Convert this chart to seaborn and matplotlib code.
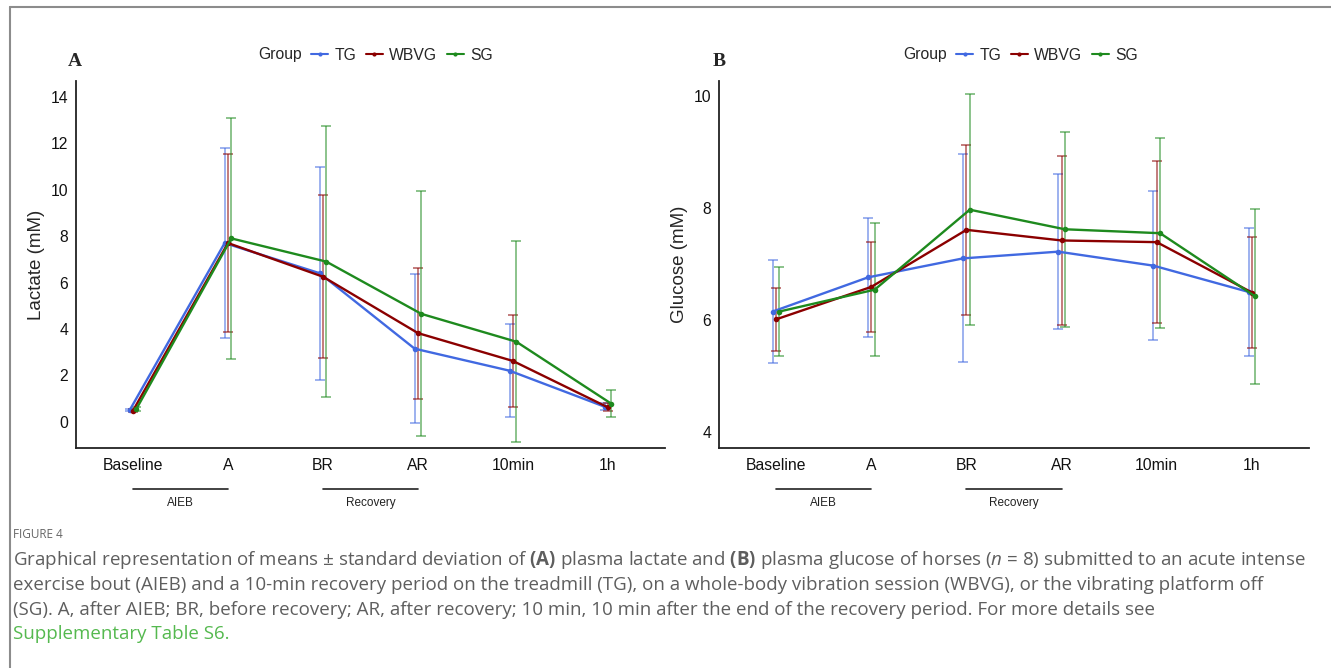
import numpy as np
import pandas as pd
import matplotlib
matplotlib.use("Agg")
import matplotlib.pyplot as plt
import matplotlib.transforms as mtransforms
from matplotlib.lines import Line2D
import seaborn as sns

# values (means and SDs)
times = ["Baseline", "A", "BR", "AR", "10min", "1h"]
groups = ["TG", "WBVG", "SG"]

lactate_tg = [0.50, 7.70, 6.40, 3.15, 2.20, 0.65]
lactate_tg_sd = [0.05, 4.10, 4.58, 3.22, 2.00, 0.15]
lactate_wbvg = [0.48, 7.70, 6.25, 3.82, 2.62, 0.62]
lactate_wbvg_sd = [0.06, 3.85, 3.52, 2.82, 1.97, 0.17]
lactate_sg = [0.55, 7.90, 6.90, 4.65, 3.45, 0.78]
lactate_sg_sd = [0.08, 5.20, 5.85, 5.28, 4.32, 0.58]

glucose_tg = [6.15, 6.76, 7.10, 7.22, 6.97, 6.50]
glucose_tg_sd = [0.92, 1.06, 1.86, 1.39, 1.33, 1.14]
glucose_wbvg = [6.01, 6.59, 7.61, 7.42, 7.39, 6.49]
glucose_wbvg_sd = [0.56, 0.81, 1.52, 1.51, 1.45, 1.00]
glucose_sg = [6.15, 6.54, 7.97, 7.62, 7.55, 6.42]
glucose_sg_sd = [0.79, 1.19, 2.06, 1.74, 1.70, 1.56]

colors = {"TG": "#4169E1", "WBVG": "#8B0000", "SG": "#1E8A1E"}
dodge = {"TG": -0.035, "WBVG": 0.0, "SG": 0.035}

sns.set_style("white")
plt.rcParams['font.family'] = ['Liberation Sans', 'DejaVu Sans']
plt.rcParams['mathtext.fontset'] = 'custom'
plt.rcParams['mathtext.rm'] = 'Open Sans'
plt.rcParams['mathtext.bf'] = 'Open Sans:bold'
plt.rcParams['mathtext.it'] = 'Open Sans:italic'


def make_df(means, sds):
    rows = []
    for g in groups:
        for i, t in enumerate(times):
            rows.append({"Group": g, "time": t, "pos": i + dodge[g],
                         "mean": means[g][i], "sd": sds[g][i]})
    return pd.DataFrame(rows)


def draw_panel(ax, df, ylabel, ylim, yticks):
    for g in groups:
        sub = df[df["Group"] == g]
        ax.errorbar(sub["pos"], sub["mean"], yerr=sub["sd"], fmt="none",
                    ecolor=colors[g], alpha=0.6, elinewidth=1.2,
                    capsize=3.3, capthick=1.2, zorder=2)
    sns.lineplot(data=df, x="pos", y="mean", hue="Group", hue_order=groups,
                 palette=colors, marker="o", markersize=4, markeredgewidth=0,
                 linewidth=1.7, errorbar=None, legend=False, ax=ax, zorder=3)
    ax.set_xlim(-0.6, 5.6)
    ax.set_ylim(*ylim)
    ax.set_xticks(range(len(times)))
    ax.set_xticklabels(times)
    ax.set_yticks(yticks)
    ax.set_xlabel("")
    ax.set_ylabel(ylabel, fontsize=13.5, labelpad=4)
    ax.tick_params(axis="both", labelsize=11.3, length=3.5, width=1,
                   color="#333333", labelcolor="#111111", pad=2, direction="out")
    ax.tick_params(axis="x", pad=4)
    for s in ["top", "right"]:
        ax.spines[s].set_visible(False)
    for s in ["left", "bottom"]:
        ax.spines[s].set_linewidth(1.3)
        ax.spines[s].set_color("#222222")
    ax.set_facecolor("white")

    # bracket annotations under the axis
    trans = mtransforms.blended_transform_factory(ax.transData, ax.transAxes)
    for (a, b), lab in [((0, 1), "AIEB"), ((2, 3), "Recovery")]:
        ax.plot([a, b], [-0.113, -0.113], transform=trans, clip_on=False,
                color="#222222", lw=1.2)
        ax.text((a + b) / 2, -0.15, lab, transform=trans, ha="center",
                va="center", fontsize=8.5, color="#222222")


fig = plt.figure(figsize=(13.31, 6.68), dpi=100)
axA = fig.add_axes([0.0571, 0.3293, 0.4425, 0.5494])
axB = fig.add_axes([0.5402, 0.3293, 0.4433, 0.5494])

lac_df = make_df({"TG": lactate_tg, "WBVG": lactate_wbvg, "SG": lactate_sg},
                 {"TG": lactate_tg_sd, "WBVG": lactate_wbvg_sd, "SG": lactate_sg_sd})
glu_df = make_df({"TG": glucose_tg, "WBVG": glucose_wbvg, "SG": glucose_sg},
                 {"TG": glucose_tg_sd, "WBVG": glucose_wbvg_sd, "SG": glucose_sg_sd})

draw_panel(axA, lac_df, "Lactate (mM)", (-1.13, 14.68), range(0, 15, 2))
draw_panel(axB, glu_df, "Glucose (mM)", (3.71, 10.27), [4, 6, 8, 10])

# legends: "Group" title to the left, keys in one row
handles = [Line2D([], [], color=colors[g], lw=1.5, marker="o", markersize=3,
                  markeredgewidth=0) for g in groups]
for gx, lx in [(258, 311), (903, 956)]:
    fig.text(gx / 1331, 1 - 55 / 668, "Group", fontsize=11.3, va="center")
    fig.legend(handles, groups, ncol=3, loc="center left",
               bbox_to_anchor=(lx / 1331, 1 - 55 / 668), frameon=False,
               fontsize=11.3, handlelength=1.1, handletextpad=0.4,
               columnspacing=0.6, borderpad=0, borderaxespad=0)

# panel letters
fig.text(75 / 1331, 1 - 62 / 668, "A", family="Liberation Serif",
         weight="bold", fontsize=14, ha="center", va="center")
fig.text(719 / 1331, 1 - 62 / 668, "B", family="Liberation Serif",
         weight="bold", fontsize=14, ha="center", va="center")

# frame around the figure area
fig.add_artist(Line2D([10 / 1331, 10 / 1331], [0, 1 - 7 / 668],
                      transform=fig.transFigure, color="#8c8c8c", lw=1.5))
fig.add_artist(Line2D([10 / 1331, 1], [1 - 7 / 668, 1 - 7 / 668],
                      transform=fig.transFigure, color="#8c8c8c", lw=1.5))

# caption
cap_color = "#5e5e5e"
cap_size = 13.5
fig.text(13 / 1331, 1 - 534 / 668, "FIGURE 4", family="Open Sans",
         fontsize=8.5, color="#666666", va="center")
caption = [
    r"Graphical representation of means $\pm$ standard deviation of $\mathbf{(A)}$ plasma lactate and "
    r"$\mathbf{(B)}$ plasma glucose of horses ($\mathit{n}$ = 8) submitted to an acute intense",
    "exercise bout (AIEB) and a 10-min recovery period on the treadmill (TG), on a whole-body vibration "
    "session (WBVG), or the vibrating platform off",
    "(SG). A, after AIEB; BR, before recovery; AR, after recovery; 10 min, 10 min after the end of the "
    "recovery period. For more details see",
]
for k, line in enumerate(caption):
    fig.text(13 / 1331, 1 - (560 + 25 * k) / 668, line, family="Open Sans",
             fontsize=cap_size, color=cap_color, va="center")
fig.text(13 / 1331, 1 - 634 / 668, "Supplementary Table S6.", family="Open Sans",
         fontsize=cap_size, color="#55b94f", va="center")

fig.savefig("out.png", dpi=100, facecolor="white")
